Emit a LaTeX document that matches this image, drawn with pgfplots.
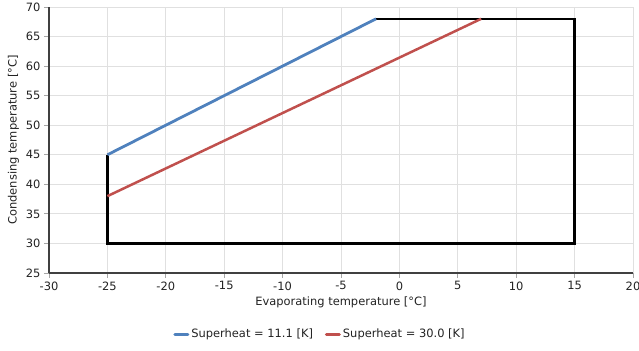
\documentclass[border=0pt]{standalone}
\usepackage{pgfplots}
\pgfplotsset{compat=1.18}
\usepackage{fontspec}
\setmainfont{DejaVu Sans}
\definecolor{sblue}{HTML}{4F81BD}
\definecolor{sred}{HTML}{C0504D}
\definecolor{txt}{HTML}{222222}
\begin{document}
\begin{tikzpicture}
\path[use as bounding box] (-49bp,-78bp) rectangle (590bp,273bp);
\begin{axis}[
  name=ax,
  at={(0,0)}, anchor=south west,
  scale only axis,
  width=584bp, height=266bp,
  xmin=-30, xmax=20, ymin=25, ymax=70,
  xtick={-30,-25,...,20}, ytick={25,30,...,70},
  grid=major,
  major grid style={draw=black!12, line width=0.9bp},
  axis lines=left,
  axis line style={-, draw=black!75, line width=1.4bp},
  tick style={draw=black!35, line width=0.9bp},
  tick align=outside,
  major tick length=5bp,
  /pgf/number format/assume math mode=true,
  ticklabel style={font=\fontsize{11.5}{13}\selectfont, text=txt},
  label style={font=\fontsize{11.5}{13}\selectfont, text=txt},
  xlabel={Evaporating temperature [°C]},
  ylabel={Condensing temperature [°C]},
  legend columns=2,
  legend style={draw=none, fill=none, at={(0.464,-0.23)}, anchor=center,
    font=\fontsize{11.5}{13}\selectfont, text=txt,
    /tikz/every even column/.append style={column sep=10bp}},
  legend image code/.code={\draw[#1, line width=3bp, line cap=round] (0bp,0bp) -- (13bp,0bp);},
  clip=false,
]
\addplot[black, line width=2.6bp, forget plot] coordinates {(-2,68) (15,68) (15,30) (-25,30) (-25,45)};
\addplot[sblue, line width=2.8bp] coordinates {(-25,45) (-2,68)};
\addlegendentry{Superheat = 11.1 [K]}
\addplot[sred, line width=2.5bp] coordinates {(-25,38) (7,68)};
\addlegendentry{Superheat = 30.0 [K]}
\end{axis}
\end{tikzpicture}
\end{document}
